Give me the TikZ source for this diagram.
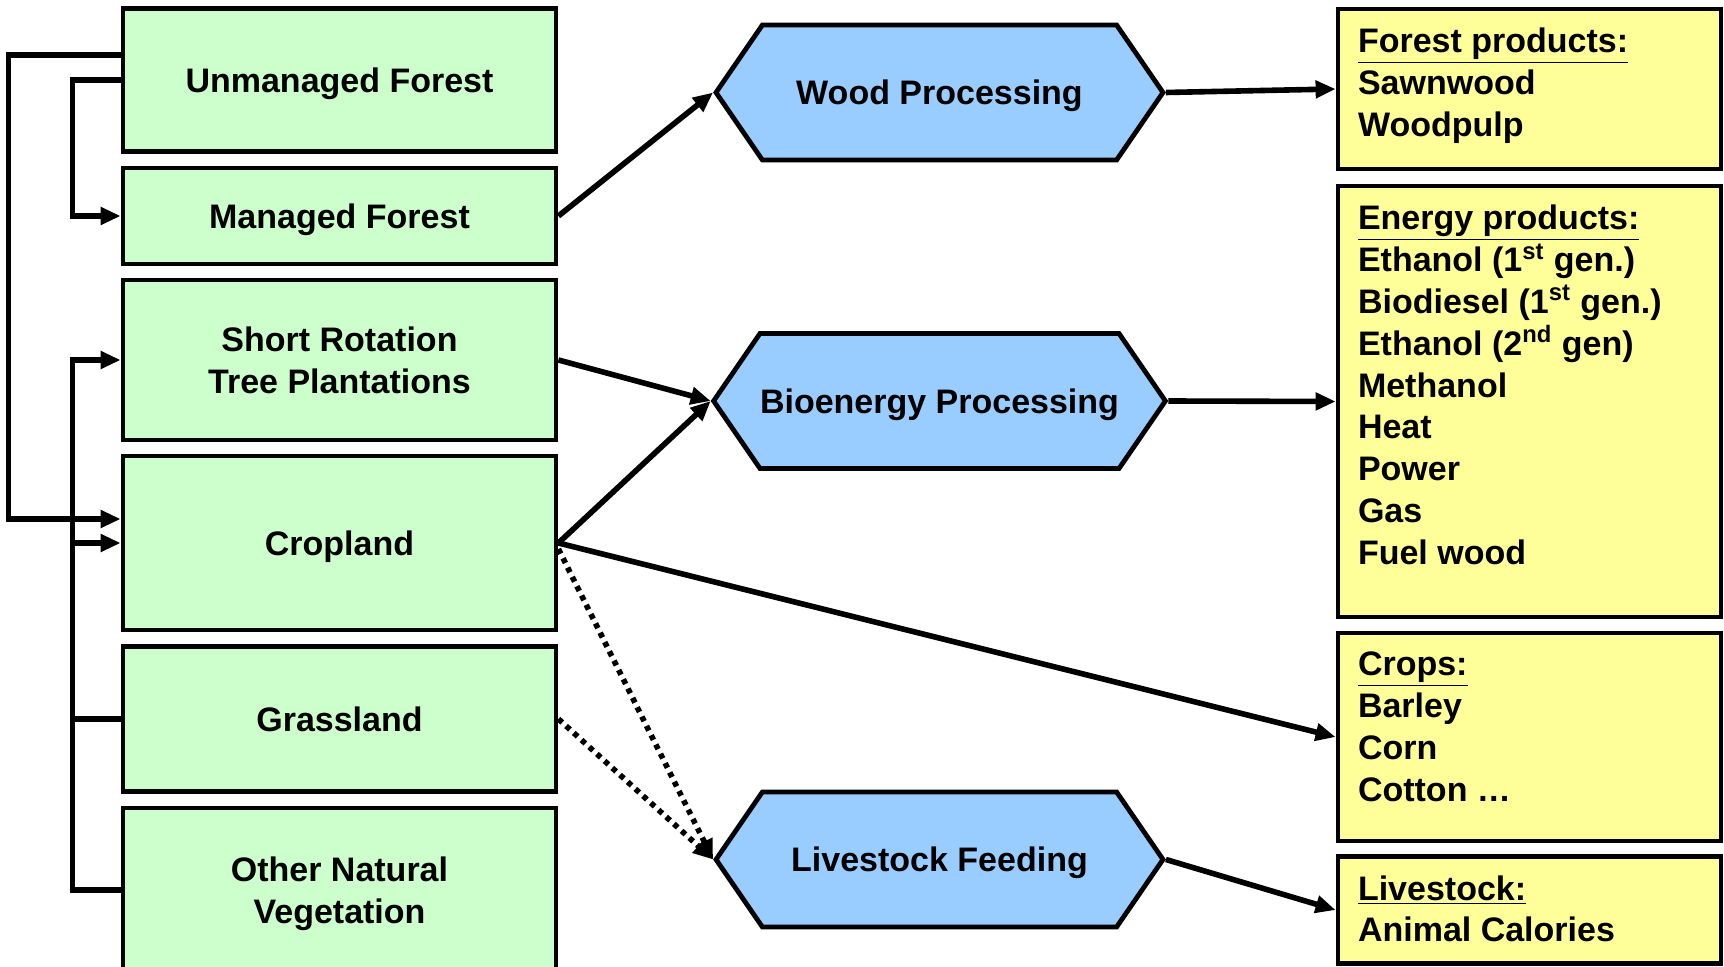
\documentclass[tikz,border=0pt]{standalone}
\usepackage{fontspec}
\setmainfont{Liberation Sans}
\usepackage{tikz}
\usetikzlibrary{arrows.meta,shapes.symbols}
\definecolor{landgreen}{HTML}{CCFFCC}
\definecolor{procblue}{HTML}{99CCFF}
\definecolor{prodyellow}{HTML}{FFFF99}
\newcommand{\diagfont}{\fontsize{17}{20.9}\selectfont\bfseries}
\tikzset{
  land/.style={draw=black, line width=2.4pt, fill=landgreen, minimum width=216.5pt, align=center,
    text depth=0pt, font=\diagfont},
  proc/.style={signal, signal to=east and west, signal pointer angle=111, draw=black, line width=2.4pt,
    fill=procblue, inner xsep=0pt, minimum width=223.5pt, minimum height=67.5pt, text depth=0pt, font=\diagfont},
  prod/.style={draw=black, line width=2.4pt, fill=prodyellow, minimum width=191.5pt},
  prodtext/.style={anchor=north west, inner sep=0pt, align=left, font=\diagfont},
  link/.style={line width=2.8pt, draw=black},
  arr/.style={link, -{Triangle[length=10pt, width=8.5pt]}},
  feed/.style={arr, dash pattern=on 2.6pt off 2.6pt},
}

\begin{document}
\begin{tikzpicture}[x=0.5pt, y=-0.5pt]
  \useasboundingbox (0,0) rectangle (1724,967);
  % Land use classes
  \node[land, minimum height=71.5pt] (unman) at (339.5,80) {Unmanaged Forest};
  \node[land, minimum height=48pt] (manag) at (339.5,216) {Managed Forest};
  \node[land, minimum height=80pt] (srtp) at (339.5,360) {Short Rotation\\Tree Plantations};
  \node[land, minimum height=87pt] (crop) at (339.5,543) {Cropland};
  \node[land, minimum height=72.5pt] (grass) at (339.5,719) {Grassland};
  \node[land, minimum height=82pt] (other) at (339.5,890) {Other Natural\\Vegetation};
  % Processing
  \node[proc] (wood) at (939.5,92.5) {Wood Processing};
  \node[proc] (bio) at (939.5,401) {Bioenergy Processing};
  \node[proc] (feedg) at (939.5,859.5) {Livestock Feeding};
  % Products
  \node[prod, minimum height=80pt] (forprod) at (1529.5,89) {};
  \node[prod, minimum height=215.5pt] (enprod) at (1529.5,401.5) {};
  \node[prod, minimum height=104pt] (crops) at (1529.5,737) {};
  \node[prod, minimum height=53.75pt] (stock) at (1529.5,910) {};
  \node[prodtext] (forprodtxt) at ([xshift=11pt, yshift=-10.6pt]forprod.north west)
    {\underline{Forest products:}\\Sawnwood\\Woodpulp};
  \node[prodtext] (enprodtxt) at ([xshift=11pt, yshift=-10.6pt]enprod.north west)
    {\underline{Energy products:}\\Ethanol (1\textsuperscript{st} gen.)\\Biodiesel (1\textsuperscript{st} gen.)\\
     Ethanol (2\textsuperscript{nd} gen)\\Methanol\\Heat\\Power\\Gas\\Fuel wood};
  \node[prodtext] (cropstxt) at ([xshift=11pt, yshift=-10.6pt]crops.north west)
    {\underline{Crops:}\\Barley\\Corn\\Cotton …};
  \node[prodtext] (stocktxt) at ([xshift=11pt, yshift=-10.6pt]stock.north west)
    {\underline{Livestock:}\\Animal Calories};
  % Land use change
  \coordinate (bus) at ([xshift=-24pt]other.west);
  \draw[arr] ([yshift=12.5pt]unman.west) -- ++(-112,0) |- ([yshift=12pt]crop.west);
  \draw[arr] (unman.west) -- ++(-48,0) |- (manag.west);
  \draw[arr] (other.west) -- (bus) |- (srtp.west);
  \draw[link] (grass.west) -- (grass.west -| bus);
  \draw[arr] (crop.west -| bus) -- (crop.west);
  % Flows
  \draw[arr] (manag.east) -- (wood.west);
  \draw[arr] (srtp.east) -- (bio.west);
  \draw[arr] (crop.east) -- (bio.west);
  \draw[arr] (crop.east) -- (crops.west);
  \draw[feed] ([yshift=-3pt]crop.east) -- (feedg.west);
  \draw[feed] (grass.east) -- (feedg.west);
  \draw[arr] (wood.east) -- (forprod.west);
  \draw[arr] (bio.east) -- (enprod.west);
  \draw[arr] (feedg.east) -- (stock.west);
\end{tikzpicture}
\end{document}
